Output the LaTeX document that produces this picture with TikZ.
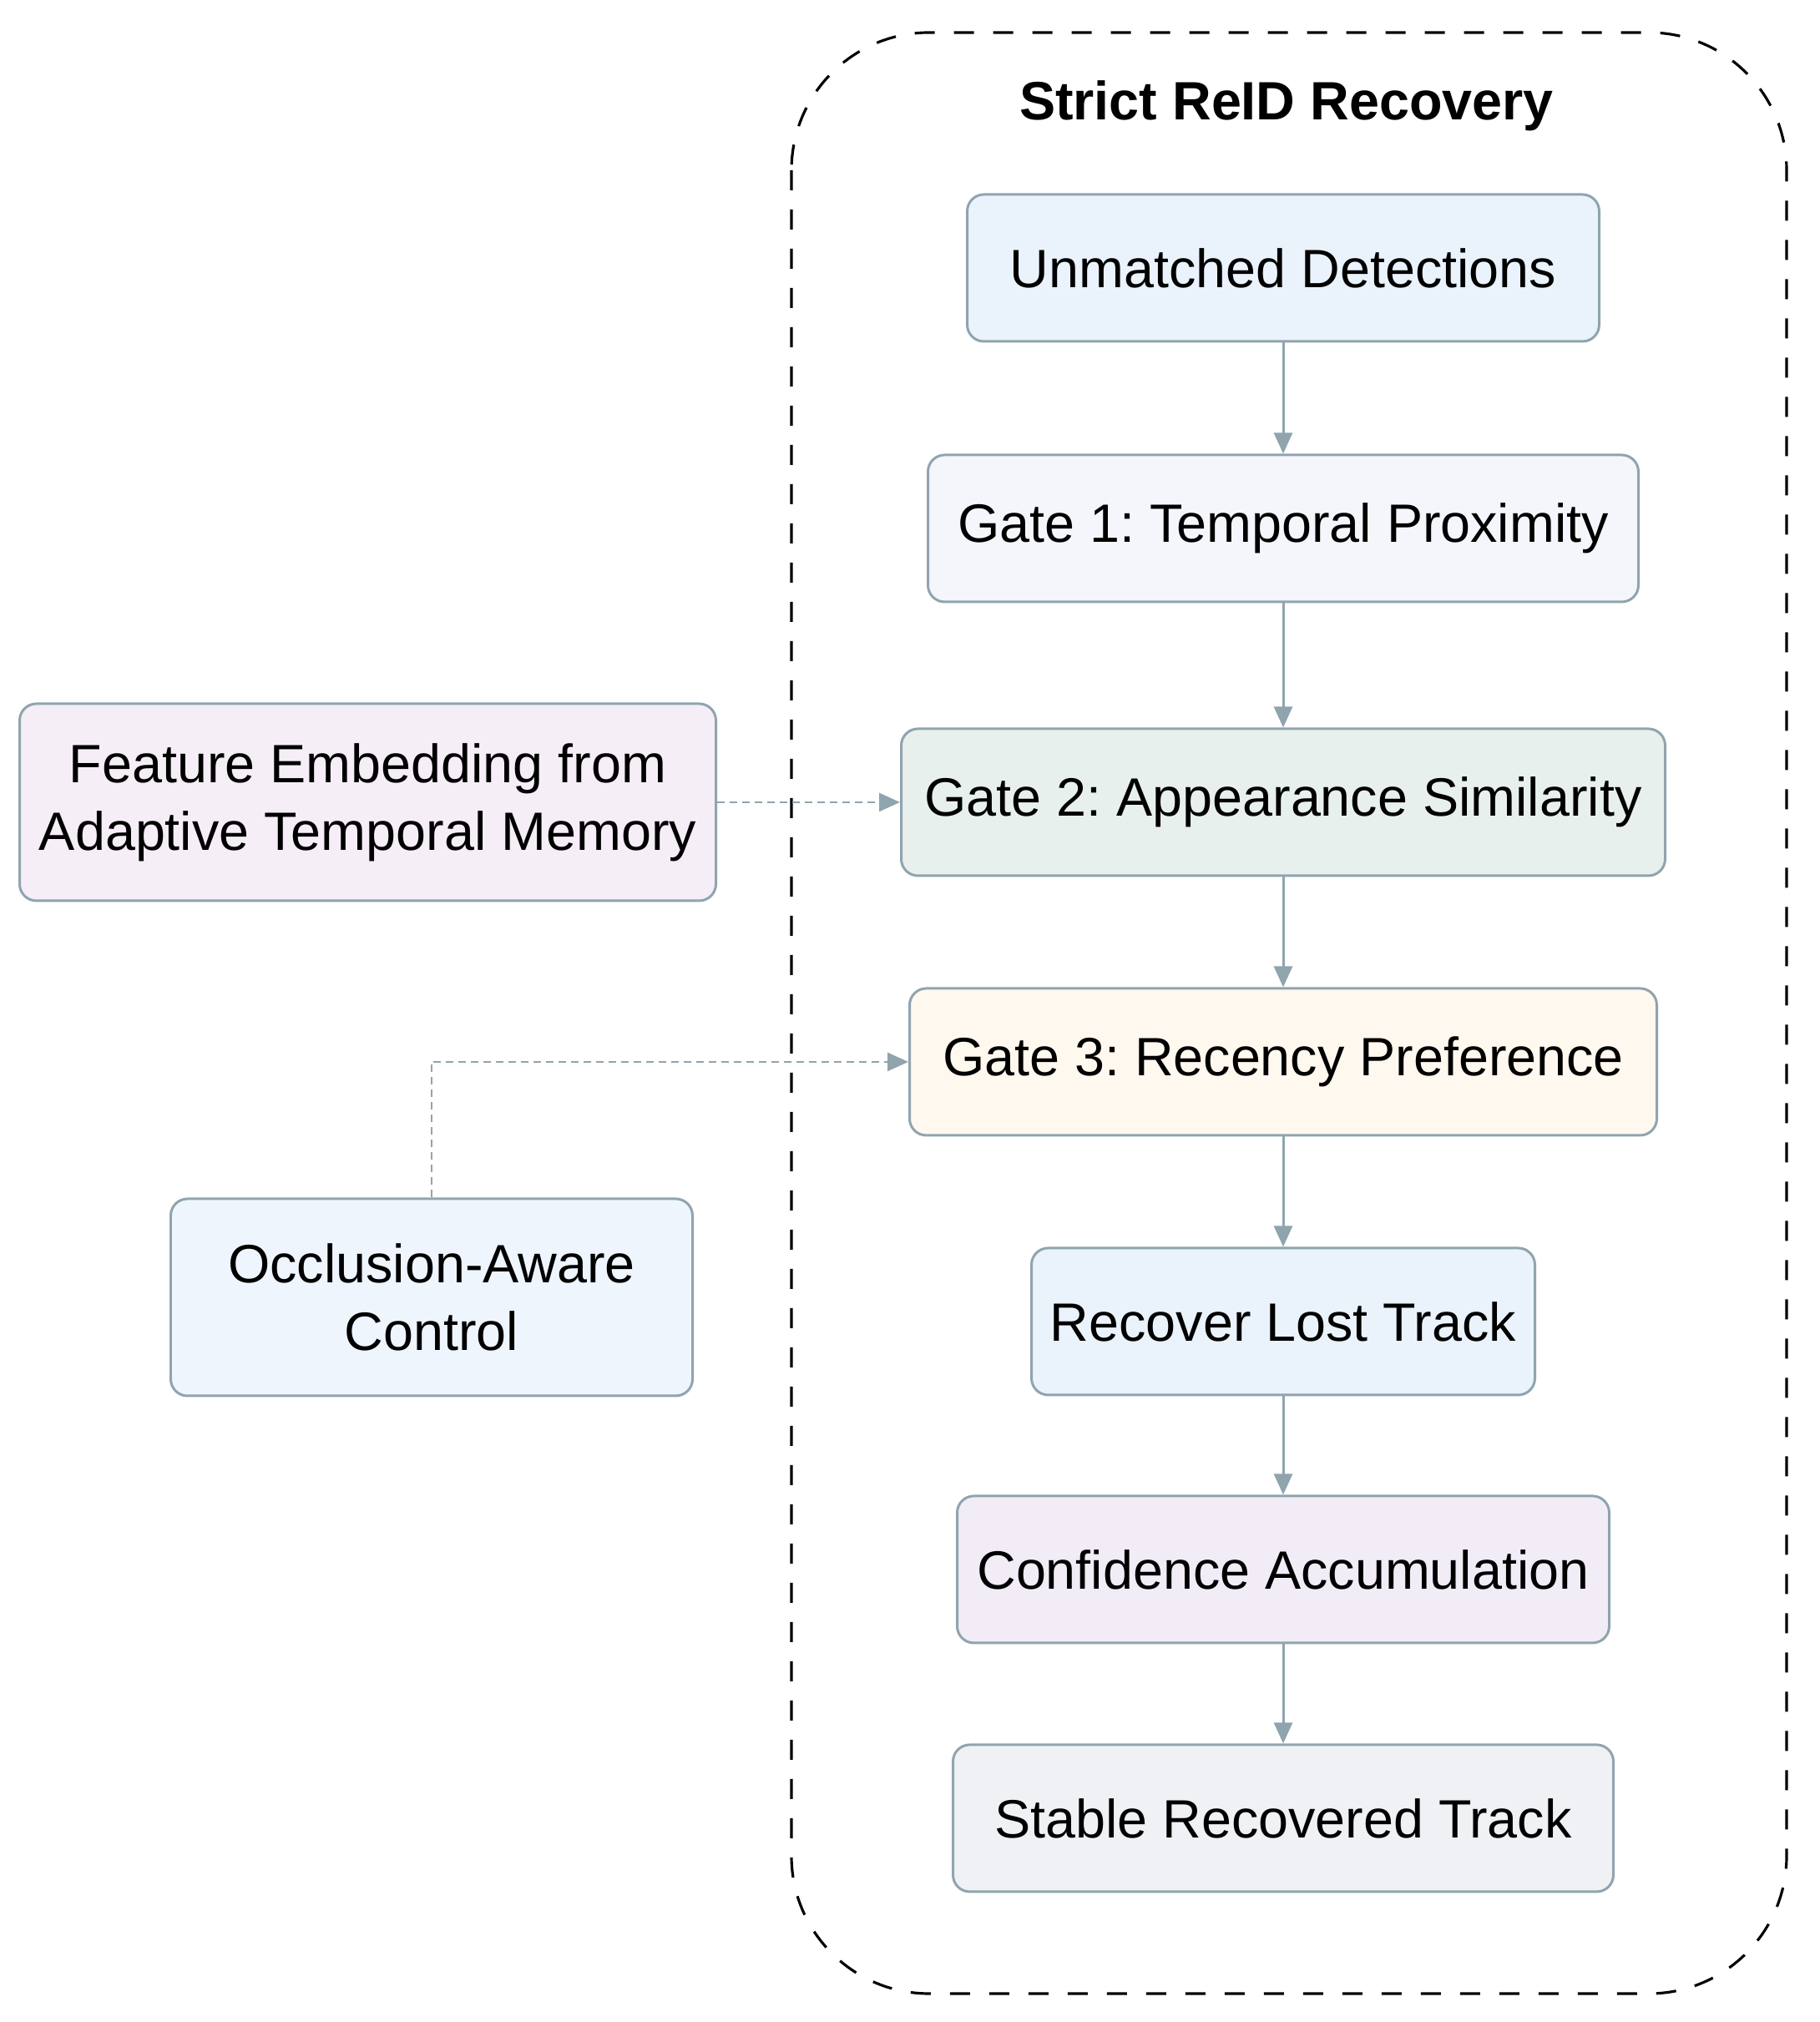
\documentclass[tikz,border=0pt]{standalone}
\usepackage{fontspec}
\setmainfont{Liberation Sans}
\frenchspacing
\usetikzlibrary{arrows.meta, positioning}
\definecolor{edgegrey}{HTML}{90A4AE}
\definecolor{detfill}{HTML}{EAF2FB}
\definecolor{gateonefill}{HTML}{F4F6FB}
\definecolor{gatetwofill}{HTML}{E8F0EE}
\definecolor{gatethreefill}{HTML}{FEF8EF}
\definecolor{recfill}{HTML}{EAF2FB}
\definecolor{conffill}{HTML}{F1ECF6}
\definecolor{stablefill}{HTML}{EFF1F5}
\definecolor{featfill}{HTML}{F5EEF6}
\definecolor{occfill}{HTML}{EEF5FD}

\begin{document}
\begin{tikzpicture}[
  font=\fontsize{18.4pt}{23pt}\selectfont,
  box/.style    ={rounded corners=0.2cm, align=center, inner xsep=0pt,
                  minimum height=1.76cm, line width=0.85pt, draw=edgegrey},
  sidebox/.style={box, minimum height=2.36cm},
  flow/.style   ={-{Triangle[length=0.25cm, width=0.22cm]}, line width=0.85pt,
                  draw=edgegrey},
  hint/.style   ={flow, line width=0.75pt, dash pattern=on 0.09cm off 0.06cm},
  cluster/.style={draw=black, line width=0.9pt, rounded corners=1.65cm,
                  dash pattern=on 0.24cm off 0.23cm},
]
\useasboundingbox (0,0) rectangle (21.79,24.22);

% group frame and title
\draw[cluster] (9.48,23.83) rectangle (21.40,0.34);
\node[font=\fontsize{18.4pt}{23pt}\selectfont\bfseries] (title) at (15.41,22.95)
     {Strict ReID Recovery};

% main chain
\node[box, fill=detfill, minimum width=7.57cm] (det) at (15.37,21.01)
     {Unmatched Detections};
\node[box, fill=gateonefill, minimum width=8.51cm, below=1.33cm of det] (gate1)
     {Gate 1: Temporal Proximity};
\node[box, fill=gatetwofill, minimum width=9.15cm, below=1.49cm of gate1] (gate2)
     {Gate 2: Appearance Similarity};
\node[box, fill=gatethreefill, minimum width=8.95cm, below=1.32cm of gate2] (gate3)
     {Gate 3: Recency Preference};
\node[box, fill=recfill, minimum width=6.03cm, below=1.32cm of gate3] (recover)
     {Recover Lost Track};
\node[box, fill=conffill, minimum width=7.81cm, below=1.18cm of recover] (conf)
     {Confidence Accumulation};
\node[box, fill=stablefill, minimum width=7.91cm, below=1.19cm of conf] (stable)
     {Stable Recovered Track};

% side inputs
\node[sidebox, fill=featfill, minimum width=8.34cm, left=2.19cm of gate2] (feat)
     {Feature Embedding from\\Adaptive Temporal Memory};
\node[sidebox, fill=occfill, minimum width=6.25cm] (occ) at (5.17,8.68)
     {Occlusion-Aware\\Control};

\draw[flow] (det)     -- (gate1);
\draw[flow] (gate1)   -- (gate2);
\draw[flow] (gate2)   -- (gate3);
\draw[flow] (gate3)   -- (recover);
\draw[flow] (recover) -- (conf);
\draw[flow] (conf)    -- (stable);

\draw[hint] (feat.east) -- (gate2.west);
\draw[hint] (occ.north) |- (gate3.west);

\end{tikzpicture}
\end{document}
